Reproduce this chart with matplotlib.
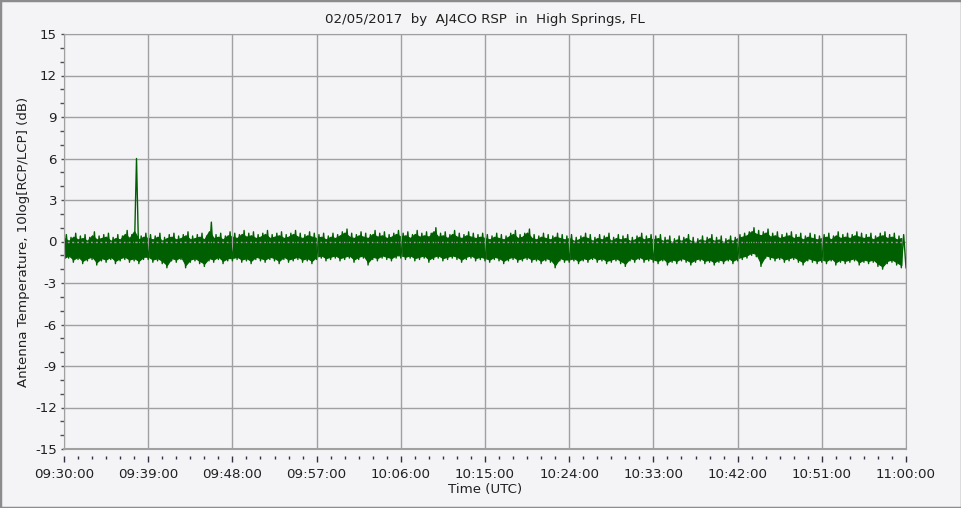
import numpy as np
import pandas as pd
from matplotlib import pyplot as plt
import matplotlib.dates as mdates
from matplotlib.ticker import MultipleLocator

# upper / lower edge of the trace for every 30 s bin (dB)
upper = [0.5, 0.3, 0.6, 0.4, 0.5, 0.3, 0.7, 0.4, 0.5, 0.6, 0.3, 0.5, 0.4, 0.8, 0.5, 6.0, 0.4, 0.6,
         0.5, 0.4, 0.6, 0.3, 0.5, 0.6, 0.4, 0.5, 0.7, 0.4, 0.5, 0.6, 0.4, 1.4, 0.5, 0.6, 0.4, 0.7,
         0.6, 0.5, 0.8, 0.6, 0.7, 0.5, 0.6, 0.8, 0.5, 0.6, 0.7, 0.5, 0.6, 0.8, 0.6, 0.5, 0.7, 0.6,
         0.5, 0.6, 0.4, 0.6, 0.5, 0.7, 0.9, 0.6, 0.5, 0.7, 0.6, 0.5, 0.8, 0.6, 0.7, 0.5, 0.6, 0.8,
         0.6, 0.7, 0.5, 0.8, 0.6, 0.7, 0.6, 1.0, 0.6, 0.7, 0.5, 0.8, 0.6, 0.5, 0.7, 0.6, 0.5, 0.6,
         0.5, 0.4, 0.6, 0.5, 0.4, 0.6, 0.8, 0.5, 0.6, 0.9, 0.5, 0.4, 0.6, 0.5, 0.4, 0.6, 0.5, 0.4,
         0.5, 0.3, 0.4, 0.6, 0.5, 0.3, 0.5, 0.4, 0.6, 0.3, 0.5, 0.4, 0.5, 0.3, 0.4, 0.6, 0.4, 0.5,
         0.4, 0.5, 0.3, 0.4, 0.2, 0.4, 0.3, 0.5, 0.3, 0.2, 0.4, 0.3, 0.5, 0.3, 0.4, 0.2, 0.4, 0.3,
         0.5, 0.6, 0.7, 1.0, 0.8, 0.7, 0.9, 0.6, 0.7, 0.5, 0.6, 0.7, 0.5, 0.6, 0.4, 0.6, 0.5, 0.4,
         0.5, 0.6, 0.4, 0.7, 0.5, 0.6, 0.5, 0.7, 0.6, 0.5, 0.6, 0.4, 0.6, 0.7, 0.5, 0.6, 0.4, 0.5]
lower = [-1.4, -1.2, -1.5, -1.3, -1.6, -1.4, -1.3, -1.7, -1.4, -1.5, -1.3, -1.6, -1.4, -1.3, -1.5, -1.4, -1.6, -1.3,
         -1.3, -1.5, -1.4, -1.6, -1.9, -1.4, -1.5, -1.3, -1.9, -1.5, -1.4, -1.6, -1.8, -1.4, -1.5, -1.3, -1.6, -1.4,
         -1.4, -1.3, -1.5, -1.4, -1.6, -1.3, -1.4, -1.5, -1.3, -1.4, -1.6, -1.3, -1.5, -1.4, -1.3, -1.5, -1.4, -1.6,
         -1.3, -1.2, -1.4, -1.3, -1.2, -1.4, -1.3, -1.2, -1.5, -1.3, -1.2, -1.7, -1.3, -1.4, -1.2, -1.3, -1.4, -1.2,
         -1.2, -1.3, -1.2, -1.4, -1.3, -1.2, -1.5, -1.3, -1.2, -1.4, -1.3, -1.2, -1.3, -1.5, -1.3, -1.2, -1.4, -1.3,
         -1.4, -1.5, -1.3, -1.4, -1.6, -1.4, -1.3, -1.5, -1.4, -1.3, -1.5, -1.4, -1.6, -1.4, -1.5, -1.9, -1.4, -1.5,
         -1.5, -1.4, -1.6, -1.4, -1.5, -1.3, -1.5, -1.4, -1.6, -1.5, -1.4, -1.6, -1.8, -1.4, -1.5, -1.3, -1.5, -1.4,
         -1.5, -1.6, -1.4, -1.7, -1.5, -1.6, -1.4, -1.5, -1.7, -1.5, -1.4, -1.6, -1.5, -1.7, -1.5, -1.6, -1.4, -1.6,
         -1.4, -1.3, -1.2, -1.0, -1.1, -1.8, -1.2, -1.3, -1.4, -1.3, -1.5, -1.4, -1.3, -1.5, -1.7, -1.4, -1.5, -1.6,
         -1.5, -1.6, -1.4, -1.7, -1.5, -1.6, -1.5, -1.4, -1.7, -1.5, -1.6, -1.5, -1.8, -2.0, -1.6, -1.5, -1.7, -1.9]

start = pd.Timestamp('2017-02-05 09:30:00')
end = pd.Timestamp('2017-02-05 11:00:00')
bins = pd.date_range(start, periods=len(lower), freq='30s')

# interleave: low sample at bin start, high sample 15 s later
times = []
values = []
for t, lo, hi in zip(bins, lower, upper):
    times += [t, t + pd.Timedelta(seconds=15)]
    values += [lo, hi]
times.append(end)
values.append(lower[-1])

# solid core of the trace sits a little inside the spiky edges
lo_arr = np.array(lower)
hi_arr = np.minimum(np.array(upper), 1.0)
core_hi = hi_arr - 0.25
core_lo = lo_arr + 0.2

bg = '#f4f4f6'
grid_c = '#a0a0a0'
txt_c = '#202020'
green = '#005f00'
plt.rcParams['font.family'] = 'DejaVu Sans'
plt.rcParams['font.size'] = 9.6
plt.rcParams['axes.unicode_minus'] = False

fig = plt.figure(figsize=(9.62, 5.08), dpi=100, facecolor=bg)
fig.patches.append(plt.Rectangle((0, 0), 1, 1, transform=fig.transFigure,
                                 fill=False, edgecolor='#8c8c8c', linewidth=2.5))
ax = fig.add_axes([64 / 962, 59 / 508, 842 / 962, 415 / 508], facecolor=bg)

ax.fill_between(bins, core_lo, core_hi, color=green, linewidth=0.8, edgecolor=green)
ax.plot(times, values, color=green, linewidth=1.0)

ax.set_xlim(start, end)
ax.set_ylim(-15, 15)
ax.yaxis.set_major_locator(MultipleLocator(3))
ax.yaxis.set_minor_locator(MultipleLocator(1))
ax.set_xticks(pd.date_range(start, end, freq='9min'))
ax.set_xticks(pd.date_range(start, end, freq='90s'), minor=True)
ax.xaxis.set_major_formatter(mdates.DateFormatter('%H:%M:%S'))
ax.grid(True, which='major', color=grid_c, linewidth=1)

for s in ['top', 'right', 'left']:
    ax.spines[s].set_color(grid_c)
ax.spines['bottom'].set_position(('outward', 5))
ax.spines['bottom'].set_color('none')
ax.axhline(-15, color=grid_c, linewidth=1.5, clip_on=False)

ax.tick_params(axis='x', which='major', length=4, width=1, color='#303040', pad=5, labelcolor=txt_c)
ax.tick_params(axis='x', which='minor', length=2, width=1, color='#303040')
ax.tick_params(axis='y', which='major', length=2, width=1, color='#505050', pad=3, labelcolor=txt_c)
ax.tick_params(axis='y', which='minor', length=3, width=1, color='#505050')

ax.set_title('02/05/2017  by  AJ4CO RSP  in  High Springs, FL', fontsize=9.6, pad=8, color=txt_c)
ax.set_xlabel('Time (UTC)', labelpad=1, color=txt_c)
ax.set_ylabel('Antenna Temperature, 10log[RCP/LCP] (dB)', labelpad=4, color=txt_c)

fig.savefig('out.png', dpi=100, facecolor=bg)
